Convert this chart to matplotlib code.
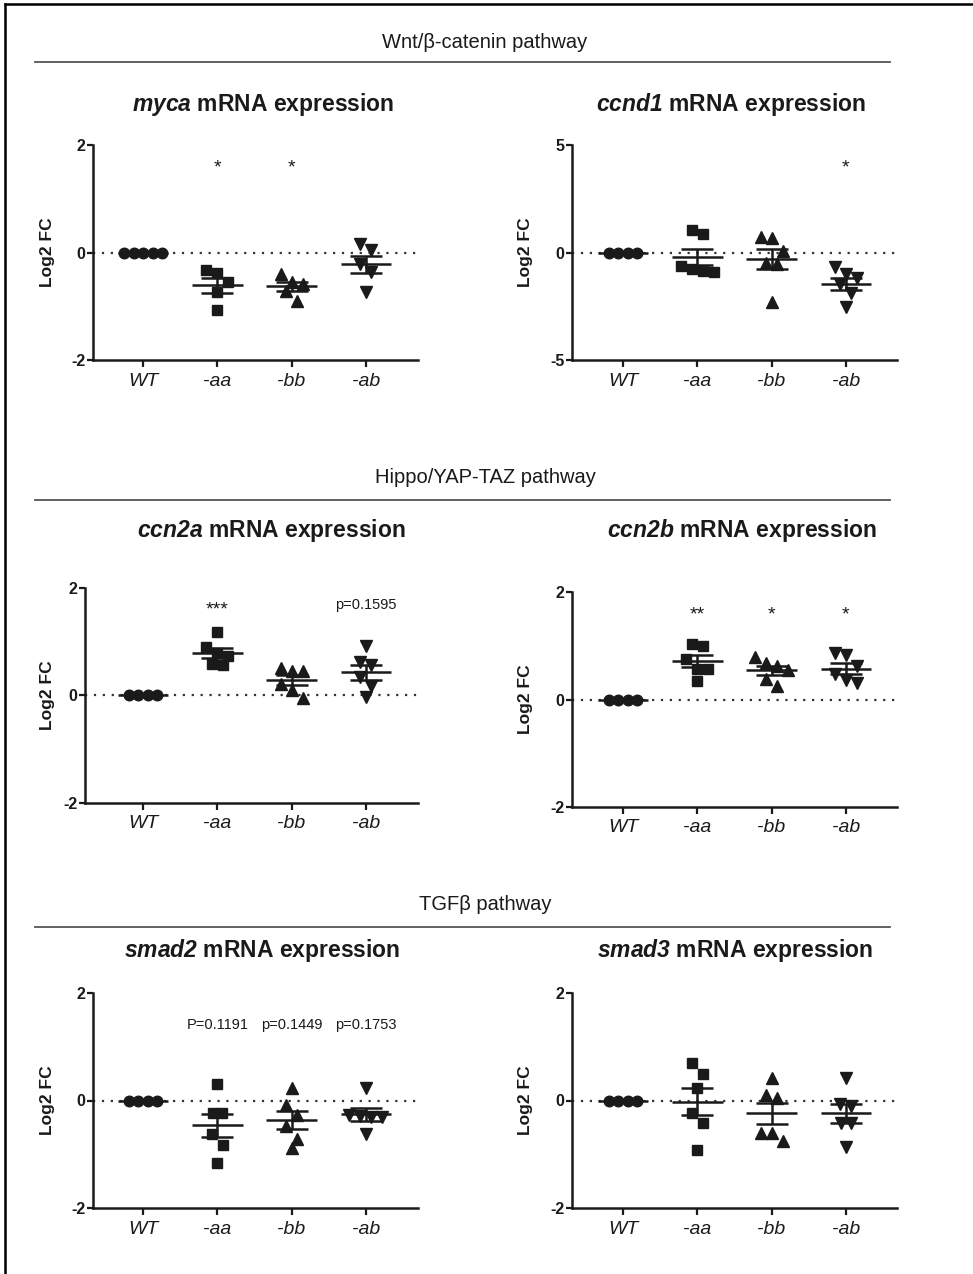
import numpy as np
import matplotlib.pyplot as plt
from matplotlib.lines import Line2D

plt.rcParams['font.family'] = ['Liberation Sans', 'DejaVu Sans']
plt.rcParams['mathtext.fontset'] = 'custom'
plt.rcParams['mathtext.rm'] = 'Liberation Sans'
plt.rcParams['mathtext.it'] = 'Liberation Sans:italic'
plt.rcParams['mathtext.bf'] = 'Liberation Sans:bold'
plt.rcParams['mathtext.bfit'] = 'Liberation Sans:italic:bold'

# ---- data (log2 fold change per fish) ----
groups = ['WT', '-aa', '-bb', '-ab']
markers = ['o', 's', '^', 'v']

myca = [[0, 0, 0, 0, 0],
        [-0.39, -0.33, -0.54, -0.73, -1.07],
        [-0.55, -0.58, -0.40, -0.71, -0.91],
        [0.05, 0.16, -0.21, -0.36, -0.73]]
ccnd1 = [[0, 0, 0, 0],
         [1.05, 0.86, -0.78, -0.89, -0.85, -0.63],
         [0.66, 0.71, 0.09, -0.47, -0.53, -2.29],
         [-0.66, -1.20, -1.00, -1.47, -1.90, -2.52]]
ccn2a = [[0, 0, 0, 0],
         [1.19, 0.91, 0.74, 0.79, 0.57, 0.59],
         [0.45, 0.52, 0.45, 0.22, -0.05, 0.10],
         [0.93, 0.57, 0.62, 0.34, 0.18, -0.03]]
ccn2b = [[0, 0, 0, 0],
         [1.00, 1.04, 0.57, 0.75, 0.57, 0.34],
         [0.79, 0.62, 0.68, 0.54, 0.38, 0.25],
         [0.82, 0.87, 0.62, 0.48, 0.31, 0.36]]
smad2 = [[0, 0, 0, 0],
         [0.31, -0.23, -0.23, -0.62, -0.83, -1.17],
         [0.24, -0.08, -0.27, -0.47, -0.72, -0.89],
         [0.24, -0.27, -0.31, -0.31, -0.29, -0.62]]
smad3 = [[0, 0, 0, 0],
         [0.70, 0.50, 0.23, -0.23, -0.41, -0.92],
         [0.41, 0.10, 0.04, -0.60, -0.61, -0.75],
         [0.41, -0.10, -0.07, -0.41, -0.41, -0.87]]

myca_sig = ['', '*', '*', '']
ccnd1_sig = ['', '', '', '*']
ccn2a_sig = ['', '***', '', 'p=0.1595']
ccn2b_sig = ['', '**', '*', '*']
smad2_sig = ['', 'P=0.1191', 'p=0.1449', 'p=0.1753']
smad3_sig = ['', '', '', '']

pathways = ['Wnt/\u03b2-catenin pathway', 'Hippo/YAP-TAZ pathway', 'TGF\u03b2 pathway']

# ---- layout (pixels) ----
W, H = 973, 1274
fig = plt.figure(figsize=(W / 100, H / 100), dpi=100)
STEP = 74.3      # px between categories
DOT = 11.0       # px spacing between markers in one swarm row
TIE = 9.5        # px spacing for identical values (touching markers)
ROW = 15.0       # px: values closer than this share a row

panels = [
    dict(gene='myca', vals=myca, lim=2, sig=myca_sig, sig_y=1.66, box=(93, 145, 418, 360), x0=143, lab=55),
    dict(gene='ccnd1', vals=ccnd1, lim=5, sig=ccnd1_sig, sig_y=4.15, box=(572, 145, 897, 360), x0=623, lab=533),
    dict(gene='ccn2a', vals=ccn2a, lim=2, sig=ccn2a_sig, sig_y=1.69, box=(85, 588, 418, 803), x0=143, lab=55),
    dict(gene='ccn2b', vals=ccn2b, lim=2, sig=ccn2b_sig, sig_y=1.67, box=(572, 592, 897, 807), x0=623, lab=533),
    dict(gene='smad2', vals=smad2, lim=2, sig=smad2_sig, sig_y=1.40, box=(93, 993, 418, 1208), x0=143, lab=55),
    dict(gene='smad3', vals=smad3, lim=2, sig=smad3_sig, sig_y=1.40, box=(572, 993, 897, 1208), x0=623, lab=533),
]
title_pos = [(263, 105), (731, 105), (271, 531), (742, 531), (262, 951), (735, 951)]
head_y = [43, 477, 905]
rule_y = [62, 500, 927]


def swarm(vals, ppu_y):
    # group near-equal values into rows and center each row
    vals = np.asarray(vals, float)
    order = np.argsort(-vals, kind='stable')
    rows = []
    for i in order:
        if rows and abs(vals[rows[-1][0]] - vals[i]) * ppu_y < ROW:
            rows[-1].append(i)
        else:
            rows.append([i])
    off = np.zeros(len(vals))
    for row in rows:
        n = len(row)
        gap = TIE if vals[row[0]] == vals[row[-1]] else DOT
        for k, i in enumerate(row):
            off[i] = (k - (n - 1) / 2) * gap / STEP
    return off


ink = '#1a1a1a'
for p in panels:
    l, t, r, b = p['box']
    ax = fig.add_axes([l / W, 1 - b / H, (r - l) / W, (b - t) / H])
    lim = p['lim']
    ax.set_ylim(-lim, lim)
    ax.set_xlim((l - p['x0']) / STEP, (r - p['x0']) / STEP)
    ppu_y = (b - t) / (2 * lim)
    ax.axhline(0, color='#333333', lw=1.6, ls=(0, (1, 3)), zorder=1)
    for i, v in enumerate(p['vals']):
        v = np.asarray(v, float)
        xs = i + swarm(v, ppu_y)
        ms = 7.6 if markers[i] == 'o' else 7.4 if markers[i] == 's' else 8.2
        ax.plot(xs, v, ls='none', marker=markers[i], ms=ms, color=ink, mec=ink, zorder=3)
        m = v.mean()
        sem = v.std(ddof=1) / np.sqrt(len(v))
        ax.hlines(m, i - 0.34, i + 0.34, color=ink, lw=1.8, zorder=4)
        if sem > 0:
            ax.errorbar(i, m, yerr=sem, fmt='none', ecolor=ink, elinewidth=1.8,
                        capsize=11.5, capthick=1.8, zorder=4)
        lab = p['sig'][i]
        if lab:
            star = set(lab) == {'*'}
            ax.annotate(lab, (i, p['sig_y']), xytext=(0, -3.5 if star else 0),
                        textcoords='offset points', ha='center', va='center',
                        fontsize=14 if star else 10.5, color=ink)
    ax.spines[['top', 'right']].set_visible(False)
    for s in ['left', 'bottom']:
        ax.spines[s].set_linewidth(1.8)
        ax.spines[s].set_color(ink)
    ax.set_yticks([-lim, 0, lim])
    ax.set_yticklabels([str(-lim), '0', str(lim)], fontweight='bold', fontsize=11.5)
    ax.set_xticks(range(len(groups)))
    ax.set_xticklabels(groups, fontstyle='italic', fontsize=14)
    ax.tick_params(axis='y', length=4.5, width=1.6, pad=1, colors=ink)
    ax.tick_params(axis='x', length=5, width=1.6, pad=4, colors=ink)
    ax.set_ylabel('Log2 FC', fontweight='bold', fontsize=12.5, color=ink)
    ax.yaxis.set_label_coords((p['lab'] - l) / (r - l), 0.5)

for (gene, (cx, cy)) in zip([p['gene'] for p in panels], title_pos):
    fig.text(cx / W, 1 - cy / H, r'$\mathbfit{' + gene + '}$ mRNA expression',
             ha='center', va='center', fontsize=16.5, fontweight='bold', color=ink)

for name, hy, ry in zip(pathways, head_y, rule_y):
    fig.text(485 / W, 1 - hy / H, name, ha='center', va='center', fontsize=14.5, color=ink)
    fig.add_artist(Line2D([35 / W, 890 / W], [1 - ry / H, 1 - ry / H], color='#555555', lw=1.3))

# outer frame (top and left only)
fig.add_artist(Line2D([5 / W, 1], [1 - 4 / H, 1 - 4 / H], color='black', lw=1.8))
fig.add_artist(Line2D([5 / W, 5 / W], [0, 1 - 4 / H], color='black', lw=1.8))

fig.savefig('out.png', dpi=100, facecolor='white')
